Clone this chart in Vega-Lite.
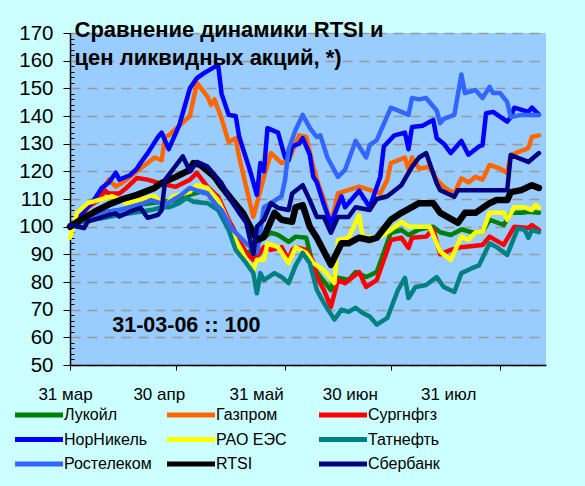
{
"$schema":"https://vega.github.io/schema/vega-lite/v6.json",
"width":476,"height":332,
"autosize":{"type":"none"},
"padding":{"left":70,"top":33,"right":39,"bottom":121},
"background":"#CCFFFF",
"config":{"view":{"fill":"#99CCFF","stroke":null},"font":"Liberation Sans"},
"resolve":{"axis":{"y":"independent"}},
"layer":[
{
"data":{"values":[
{"series":"Лукойл","date":"2006-03-31","value":100},{"series":"Лукойл","date":"2006-04-04","value":103},{"series":"Лукойл","date":"2006-04-09","value":105},{"series":"Лукойл","date":"2006-04-14","value":106},{"series":"Лукойл","date":"2006-04-20","value":108},{"series":"Лукойл","date":"2006-04-26","value":109},{"series":"Лукойл","date":"2006-05-01","value":109.6},{"series":"Лукойл","date":"2006-05-04","value":111.5},{"series":"Лукойл","date":"2006-05-07","value":112.6},{"series":"Лукойл","date":"2006-05-09","value":112},{"series":"Лукойл","date":"2006-05-11","value":110.4},{"series":"Лукойл","date":"2006-05-13","value":105},{"series":"Лукойл","date":"2006-05-16","value":100},{"series":"Лукойл","date":"2006-05-18","value":94},{"series":"Лукойл","date":"2006-05-20","value":90.5},{"series":"Лукойл","date":"2006-05-22","value":91.6},{"series":"Лукойл","date":"2006-05-24","value":95.2},{"series":"Лукойл","date":"2006-05-27","value":97.8},{"series":"Лукойл","date":"2006-05-29","value":97},{"series":"Лукойл","date":"2006-06-01","value":94.5},{"series":"Лукойл","date":"2006-06-03","value":96.4},{"series":"Лукойл","date":"2006-06-06","value":96},{"series":"Лукойл","date":"2006-06-08","value":85.5},{"series":"Лукойл","date":"2006-06-10","value":81.8},{"series":"Лукойл","date":"2006-06-13","value":77.1},{"series":"Лукойл","date":"2006-06-14","value":81.8},{"series":"Лукойл","date":"2006-06-18","value":80.7},{"series":"Лукойл","date":"2006-06-20","value":83.6},{"series":"Лукойл","date":"2006-06-23","value":81.8},{"series":"Лукойл","date":"2006-06-26","value":83.6},{"series":"Лукойл","date":"2006-06-30","value":97.8},{"series":"Лукойл","date":"2006-07-03","value":98.8},{"series":"Лукойл","date":"2006-07-05","value":97},{"series":"Лукойл","date":"2006-07-08","value":99},{"series":"Лукойл","date":"2006-07-12","value":100},{"series":"Лукойл","date":"2006-07-14","value":98},{"series":"Лукойл","date":"2006-07-17","value":97},{"series":"Лукойл","date":"2006-07-20","value":99},{"series":"Лукойл","date":"2006-07-23","value":98},{"series":"Лукойл","date":"2006-07-26","value":98},{"series":"Лукойл","date":"2006-07-28","value":102.5},{"series":"Лукойл","date":"2006-08-01","value":100.6},{"series":"Лукойл","date":"2006-08-03","value":105},{"series":"Лукойл","date":"2006-08-06","value":105},{"series":"Лукойл","date":"2006-08-08","value":105.4},{"series":"Лукойл","date":"2006-08-11","value":105},
{"series":"Газпром","date":"2006-03-31","value":100},{"series":"Газпром","date":"2006-04-04","value":105},{"series":"Газпром","date":"2006-04-07","value":110},{"series":"Газпром","date":"2006-04-09","value":113},{"series":"Газпром","date":"2006-04-11","value":117},{"series":"Газпром","date":"2006-04-13","value":114.5},{"series":"Газпром","date":"2006-04-15","value":116},{"series":"Газпром","date":"2006-04-19","value":120},{"series":"Газпром","date":"2006-04-24","value":125},{"series":"Газпром","date":"2006-04-26","value":124},{"series":"Газпром","date":"2006-04-27","value":132.5},{"series":"Газпром","date":"2006-04-28","value":133},{"series":"Газпром","date":"2006-05-04","value":140},{"series":"Газпром","date":"2006-05-06","value":152},{"series":"Газпром","date":"2006-05-09","value":147},{"series":"Газпром","date":"2006-05-10","value":144},{"series":"Газпром","date":"2006-05-11","value":146},{"series":"Газпром","date":"2006-05-13","value":139},{"series":"Газпром","date":"2006-05-15","value":130.6},{"series":"Газпром","date":"2006-05-17","value":132},{"series":"Газпром","date":"2006-05-18","value":125},{"series":"Газпром","date":"2006-05-22","value":103.5},{"series":"Газпром","date":"2006-05-25","value":118},{"series":"Газпром","date":"2006-05-27","value":126.6},{"series":"Газпром","date":"2006-05-30","value":123},{"series":"Газпром","date":"2006-06-01","value":124},{"series":"Газпром","date":"2006-06-04","value":133},{"series":"Газпром","date":"2006-06-06","value":132.4},{"series":"Газпром","date":"2006-06-08","value":121.6},{"series":"Газпром","date":"2006-06-09","value":117},{"series":"Газпром","date":"2006-06-11","value":110},{"series":"Газпром","date":"2006-06-13","value":101},{"series":"Газпром","date":"2006-06-15","value":112},{"series":"Газпром","date":"2006-06-21","value":114.5},{"series":"Газпром","date":"2006-06-27","value":112},{"series":"Газпром","date":"2006-06-29","value":117},{"series":"Газпром","date":"2006-06-30","value":123},{"series":"Газпром","date":"2006-07-04","value":125},{"series":"Газпром","date":"2006-07-05","value":120.5},{"series":"Газпром","date":"2006-07-06","value":125},{"series":"Газпром","date":"2006-07-08","value":121},{"series":"Газпром","date":"2006-07-11","value":121.6},{"series":"Газпром","date":"2006-07-13","value":117},{"series":"Газпром","date":"2006-07-15","value":114.4},{"series":"Газпром","date":"2006-07-18","value":112},{"series":"Газпром","date":"2006-07-20","value":117.5},{"series":"Газпром","date":"2006-07-22","value":116},{"series":"Газпром","date":"2006-07-24","value":118},{"series":"Газпром","date":"2006-07-26","value":117},{"series":"Газпром","date":"2006-07-28","value":122.3},{"series":"Газпром","date":"2006-07-31","value":121},{"series":"Газпром","date":"2006-08-02","value":119.4},{"series":"Газпром","date":"2006-08-03","value":125.9},{"series":"Газпром","date":"2006-08-08","value":128.4},{"series":"Газпром","date":"2006-08-09","value":132.4},{"series":"Газпром","date":"2006-08-11","value":133},
{"series":"Сургнфгз","date":"2006-03-31","value":100},{"series":"Сургнфгз","date":"2006-04-05","value":107},{"series":"Сургнфгз","date":"2006-04-08","value":109.6},{"series":"Сургнфгз","date":"2006-04-10","value":113},{"series":"Сургнфгз","date":"2006-04-11","value":112},{"series":"Сургнфгз","date":"2006-04-14","value":112},{"series":"Сургнфгз","date":"2006-04-16","value":114},{"series":"Сургнфгз","date":"2006-04-19","value":117.6},{"series":"Сургнфгз","date":"2006-04-22","value":117},{"series":"Сургнфгз","date":"2006-04-25","value":115.8},{"series":"Сургнфгз","date":"2006-04-30","value":114.4},{"series":"Сургнфгз","date":"2006-05-04","value":117},{"series":"Сургнфгз","date":"2006-05-06","value":119.4},{"series":"Сургнфгз","date":"2006-05-09","value":114.4},{"series":"Сургнфгз","date":"2006-05-12","value":110.8},{"series":"Сургнфгз","date":"2006-05-15","value":102.5},{"series":"Сургнфгз","date":"2006-05-18","value":95.2},{"series":"Сургнфгз","date":"2006-05-20","value":90.5},{"series":"Сургнфгз","date":"2006-05-22","value":88},{"series":"Сургнфгз","date":"2006-05-23","value":89},{"series":"Сургнфгз","date":"2006-05-25","value":92.6},{"series":"Сургнфгз","date":"2006-05-27","value":91.6},{"series":"Сургнфгз","date":"2006-05-30","value":92.6},{"series":"Сургнфгз","date":"2006-06-01","value":88},{"series":"Сургнфгз","date":"2006-06-02","value":91.6},{"series":"Сургнфгз","date":"2006-06-03","value":92.6},{"series":"Сургнфгз","date":"2006-06-06","value":91.6},{"series":"Сургнфгз","date":"2006-06-08","value":87.3},{"series":"Сургнфгз","date":"2006-06-09","value":81.8},{"series":"Сургнфгз","date":"2006-06-11","value":77.1},{"series":"Сургнфгз","date":"2006-06-13","value":71},{"series":"Сургнфгз","date":"2006-06-15","value":80.7},{"series":"Сургнфгз","date":"2006-06-17","value":79.6},{"series":"Сургнфгз","date":"2006-06-21","value":83.6},{"series":"Сургнфгз","date":"2006-06-23","value":78.2},{"series":"Сургнфгз","date":"2006-06-26","value":80.7},{"series":"Сургнфгз","date":"2006-06-30","value":95.2},{"series":"Сургнфгз","date":"2006-07-03","value":96},{"series":"Сургнфгз","date":"2006-07-05","value":92.3},{"series":"Сургнфгз","date":"2006-07-06","value":96},{"series":"Сургнфгз","date":"2006-07-10","value":96.4},{"series":"Сургнфгз","date":"2006-07-12","value":99},{"series":"Сургнфгз","date":"2006-07-14","value":90},{"series":"Сургнфгз","date":"2006-07-17","value":91.6},{"series":"Сургнфгз","date":"2006-07-20","value":92.6},{"series":"Сургнфгз","date":"2006-07-26","value":93.4},{"series":"Сургнфгз","date":"2006-07-28","value":96.4},{"series":"Сургнфгз","date":"2006-08-01","value":93.4},{"series":"Сургнфгз","date":"2006-08-04","value":100},{"series":"Сургнфгз","date":"2006-08-08","value":99.5},{"series":"Сургнфгз","date":"2006-08-09","value":100.6},{"series":"Сургнфгз","date":"2006-08-11","value":98.8},
{"series":"НорНикель","date":"2006-03-31","value":100},{"series":"НорНикель","date":"2006-04-07","value":110},{"series":"НорНикель","date":"2006-04-09","value":114},{"series":"НорНикель","date":"2006-04-11","value":116},{"series":"НорНикель","date":"2006-04-13","value":119.5},{"series":"НорНикель","date":"2006-04-14","value":117},{"series":"НорНикель","date":"2006-04-17","value":118.6},{"series":"НорНикель","date":"2006-04-19","value":121},{"series":"НорНикель","date":"2006-04-20","value":123},{"series":"НорНикель","date":"2006-04-22","value":126.5},{"series":"НорНикель","date":"2006-04-25","value":132.5},{"series":"НорНикель","date":"2006-04-26","value":134},{"series":"НорНикель","date":"2006-04-28","value":128},{"series":"НорНикель","date":"2006-05-01","value":136.7},{"series":"НорНикель","date":"2006-05-04","value":150},{"series":"НорНикель","date":"2006-05-06","value":153.7},{"series":"НорНикель","date":"2006-05-08","value":155.5},{"series":"НорНикель","date":"2006-05-12","value":158.5},{"series":"НорНикель","date":"2006-05-13","value":148},{"series":"НорНикель","date":"2006-05-15","value":140.4},{"series":"НорНикель","date":"2006-05-17","value":140},{"series":"НорНикель","date":"2006-05-18","value":132.4},{"series":"НорНикель","date":"2006-05-21","value":120.5},{"series":"НорНикель","date":"2006-05-23","value":111.5},{"series":"НорНикель","date":"2006-05-24","value":123},{"series":"НорНикель","date":"2006-05-25","value":120},{"series":"НорНикель","date":"2006-05-26","value":135.6},{"series":"НорНикель","date":"2006-05-29","value":134},{"series":"НорНикель","date":"2006-05-31","value":125},{"series":"НорНикель","date":"2006-06-01","value":124},{"series":"НорНикель","date":"2006-06-02","value":129},{"series":"НорНикель","date":"2006-06-04","value":130},{"series":"НорНикель","date":"2006-06-05","value":132},{"series":"НорНикель","date":"2006-06-07","value":126},{"series":"НорНикель","date":"2006-06-08","value":118},{"series":"НорНикель","date":"2006-06-09","value":116},{"series":"НорНикель","date":"2006-06-11","value":108},{"series":"НорНикель","date":"2006-06-13","value":101},{"series":"НорНикель","date":"2006-06-16","value":111},{"series":"НорНикель","date":"2006-06-17","value":107},{"series":"НорНикель","date":"2006-06-21","value":113},{"series":"НорНикель","date":"2006-06-24","value":107},{"series":"НорНикель","date":"2006-06-27","value":118},{"series":"НорНикель","date":"2006-06-28","value":129},{"series":"НорНикель","date":"2006-07-01","value":133},{"series":"НорНикель","date":"2006-07-04","value":134},{"series":"НорНикель","date":"2006-07-05","value":128},{"series":"НорНикель","date":"2006-07-06","value":136},{"series":"НорНикель","date":"2006-07-09","value":136.5},{"series":"НорНикель","date":"2006-07-12","value":138.6},{"series":"НорНикель","date":"2006-07-13","value":132},{"series":"НорНикель","date":"2006-07-15","value":130},{"series":"НорНикель","date":"2006-07-17","value":126.6},{"series":"НорНикель","date":"2006-07-20","value":131},{"series":"НорНикель","date":"2006-07-22","value":126},{"series":"НорНикель","date":"2006-07-25","value":129},{"series":"НорНикель","date":"2006-07-26","value":129.5},{"series":"НорНикель","date":"2006-07-27","value":141},{"series":"НорНикель","date":"2006-07-29","value":141.5},{"series":"НорНикель","date":"2006-08-02","value":138},{"series":"НорНикель","date":"2006-08-03","value":139.6},{"series":"НорНикель","date":"2006-08-04","value":143},{"series":"НорНикель","date":"2006-08-08","value":141.5},{"series":"НорНикель","date":"2006-08-09","value":143},{"series":"НорНикель","date":"2006-08-11","value":140.5},
{"series":"РАО ЕЭС","date":"2006-03-31","value":96},{"series":"РАО ЕЭС","date":"2006-04-02","value":105},{"series":"РАО ЕЭС","date":"2006-04-05","value":108.5},{"series":"РАО ЕЭС","date":"2006-04-08","value":109.6},{"series":"РАО ЕЭС","date":"2006-04-12","value":111},{"series":"РАО ЕЭС","date":"2006-04-16","value":108.5},{"series":"РАО ЕЭС","date":"2006-04-20","value":110},{"series":"РАО ЕЭС","date":"2006-04-24","value":111},{"series":"РАО ЕЭС","date":"2006-04-27","value":107.2},{"series":"РАО ЕЭС","date":"2006-04-29","value":110.8},{"series":"РАО ЕЭС","date":"2006-05-04","value":112.6},{"series":"РАО ЕЭС","date":"2006-05-06","value":115},{"series":"РАО ЕЭС","date":"2006-05-09","value":114},{"series":"РАО ЕЭС","date":"2006-05-12","value":109.6},{"series":"РАО ЕЭС","date":"2006-05-15","value":101.4},{"series":"РАО ЕЭС","date":"2006-05-17","value":95.2},{"series":"РАО ЕЭС","date":"2006-05-20","value":88},{"series":"РАО ЕЭС","date":"2006-05-22","value":84.3},{"series":"РАО ЕЭС","date":"2006-05-23","value":88},{"series":"РАО ЕЭС","date":"2006-05-25","value":88},{"series":"РАО ЕЭС","date":"2006-05-26","value":94},{"series":"РАО ЕЭС","date":"2006-05-29","value":92.6},{"series":"РАО ЕЭС","date":"2006-06-01","value":86.8},{"series":"РАО ЕЭС","date":"2006-06-03","value":92.6},{"series":"РАО ЕЭС","date":"2006-06-06","value":90.5},{"series":"РАО ЕЭС","date":"2006-06-08","value":86.8},{"series":"РАО ЕЭС","date":"2006-06-11","value":84.3},{"series":"РАО ЕЭС","date":"2006-06-14","value":79.6},{"series":"РАО ЕЭС","date":"2006-06-15","value":95.2},{"series":"РАО ЕЭС","date":"2006-06-18","value":96},{"series":"РАО ЕЭС","date":"2006-06-21","value":104.2},{"series":"РАО ЕЭС","date":"2006-06-22","value":96.4},{"series":"РАО ЕЭС","date":"2006-06-25","value":96},{"series":"РАО ЕЭС","date":"2006-06-27","value":96.4},{"series":"РАО ЕЭС","date":"2006-06-30","value":98.8},{"series":"РАО ЕЭС","date":"2006-07-03","value":101.8},{"series":"РАО ЕЭС","date":"2006-07-05","value":100},{"series":"РАО ЕЭС","date":"2006-07-07","value":100},{"series":"РАО ЕЭС","date":"2006-07-11","value":100},{"series":"РАО ЕЭС","date":"2006-07-14","value":91},{"series":"РАО ЕЭС","date":"2006-07-17","value":88},{"series":"РАО ЕЭС","date":"2006-07-20","value":96.4},{"series":"РАО ЕЭС","date":"2006-07-22","value":95.2},{"series":"РАО ЕЭС","date":"2006-07-24","value":98},{"series":"РАО ЕЭС","date":"2006-07-26","value":98},{"series":"РАО ЕЭС","date":"2006-07-28","value":105},{"series":"РАО ЕЭС","date":"2006-08-01","value":105},{"series":"РАО ЕЭС","date":"2006-08-02","value":102.5},{"series":"РАО ЕЭС","date":"2006-08-04","value":107},{"series":"РАО ЕЭС","date":"2006-08-07","value":107},{"series":"РАО ЕЭС","date":"2006-08-09","value":106},{"series":"РАО ЕЭС","date":"2006-08-10","value":107.8},{"series":"РАО ЕЭС","date":"2006-08-11","value":106.8},
{"series":"Татнефть","date":"2006-03-31","value":100},{"series":"Татнефть","date":"2006-04-04","value":102},{"series":"Татнефть","date":"2006-04-09","value":103},{"series":"Татнефть","date":"2006-04-13","value":104},{"series":"Татнефть","date":"2006-04-18","value":105},{"series":"Татнефть","date":"2006-04-23","value":106},{"series":"Татнефть","date":"2006-04-26","value":107},{"series":"Татнефть","date":"2006-04-28","value":107},{"series":"Татнефть","date":"2006-05-01","value":108.5},{"series":"Татнефть","date":"2006-05-03","value":110.4},{"series":"Татнефть","date":"2006-05-05","value":109},{"series":"Татнефть","date":"2006-05-09","value":108.5},{"series":"Татнефть","date":"2006-05-12","value":106},{"series":"Татнефть","date":"2006-05-15","value":98.8},{"series":"Татнефть","date":"2006-05-17","value":91.6},{"series":"Татнефть","date":"2006-05-20","value":86.8},{"series":"Татнефть","date":"2006-05-22","value":83.2},{"series":"Татнефть","date":"2006-05-23","value":75.9},{"series":"Татнефть","date":"2006-05-24","value":83.2},{"series":"Татнефть","date":"2006-05-25","value":80.7},{"series":"Татнефть","date":"2006-05-28","value":83.2},{"series":"Татнефть","date":"2006-05-30","value":81.8},{"series":"Татнефть","date":"2006-06-01","value":79.6},{"series":"Татнефть","date":"2006-06-03","value":86},{"series":"Татнефть","date":"2006-06-05","value":90.5},{"series":"Татнефть","date":"2006-06-07","value":86.8},{"series":"Татнефть","date":"2006-06-09","value":77.1},{"series":"Татнефть","date":"2006-06-11","value":72.4},{"series":"Татнефть","date":"2006-06-14","value":66.4},{"series":"Татнефть","date":"2006-06-16","value":70},{"series":"Татнефть","date":"2006-06-18","value":69.2},{"series":"Татнефть","date":"2006-06-20","value":70.7},{"series":"Татнефть","date":"2006-06-22","value":68.8},{"series":"Татнефть","date":"2006-06-24","value":67.5},{"series":"Татнефть","date":"2006-06-26","value":64.6},{"series":"Татнефть","date":"2006-06-29","value":67},{"series":"Татнефть","date":"2006-07-02","value":77.1},{"series":"Татнефть","date":"2006-07-04","value":81.5},{"series":"Татнефть","date":"2006-07-05","value":74.2},{"series":"Татнефть","date":"2006-07-07","value":78.2},{"series":"Татнефть","date":"2006-07-10","value":78.9},{"series":"Татнефть","date":"2006-07-13","value":81.8},{"series":"Татнефть","date":"2006-07-15","value":78.2},{"series":"Татнефть","date":"2006-07-18","value":76.4},{"series":"Татнефть","date":"2006-07-20","value":83.2},{"series":"Татнефть","date":"2006-07-23","value":85},{"series":"Татнефть","date":"2006-07-25","value":86},{"series":"Татнефть","date":"2006-07-28","value":94},{"series":"Татнефть","date":"2006-07-30","value":92.6},{"series":"Татнефть","date":"2006-08-02","value":89.8},{"series":"Татнефть","date":"2006-08-05","value":99.4},{"series":"Татнефть","date":"2006-08-07","value":98.8},{"series":"Татнефть","date":"2006-08-08","value":96},{"series":"Татнефть","date":"2006-08-09","value":98.8},{"series":"Татнефть","date":"2006-08-11","value":98},
{"series":"Ростелеком","date":"2006-03-31","value":100},{"series":"Ростелеком","date":"2006-04-04","value":103},{"series":"Ростелеком","date":"2006-04-09","value":105},{"series":"Ростелеком","date":"2006-04-14","value":106},{"series":"Ростелеком","date":"2006-04-20","value":108},{"series":"Ростелеком","date":"2006-04-23","value":109.6},{"series":"Ростелеком","date":"2006-04-27","value":108},{"series":"Ростелеком","date":"2006-05-01","value":111},{"series":"Ростелеком","date":"2006-05-04","value":114},{"series":"Ростелеком","date":"2006-05-06","value":113},{"series":"Ростелеком","date":"2006-05-09","value":112},{"series":"Ростелеком","date":"2006-05-11","value":108.5},{"series":"Ростелеком","date":"2006-05-13","value":106},{"series":"Ростелеком","date":"2006-05-16","value":99},{"series":"Ростелеком","date":"2006-05-20","value":94},{"series":"Ростелеком","date":"2006-05-23","value":90.5},{"series":"Ростелеком","date":"2006-05-25","value":107},{"series":"Ростелеком","date":"2006-05-27","value":108.5},{"series":"Ростелеком","date":"2006-05-30","value":111},{"series":"Ростелеком","date":"2006-05-31","value":117},{"series":"Ростелеком","date":"2006-06-01","value":128},{"series":"Ростелеком","date":"2006-06-03","value":135},{"series":"Ростелеком","date":"2006-06-05","value":140.4},{"series":"Ростелеком","date":"2006-06-07","value":135.7},{"series":"Ростелеком","date":"2006-06-09","value":132.4},{"series":"Ростелеком","date":"2006-06-10","value":133},{"series":"Ростелеком","date":"2006-06-12","value":125},{"series":"Ростелеком","date":"2006-06-15","value":118},{"series":"Ростелеком","date":"2006-06-17","value":120.5},{"series":"Ростелеком","date":"2006-06-20","value":131},{"series":"Ростелеком","date":"2006-06-23","value":125},{"series":"Ростелеком","date":"2006-06-24","value":129.5},{"series":"Ростелеком","date":"2006-06-26","value":131.3},{"series":"Ростелеком","date":"2006-06-30","value":143},{"series":"Ростелеком","date":"2006-07-03","value":141.5},{"series":"Ростелеком","date":"2006-07-05","value":140.4},{"series":"Ростелеком","date":"2006-07-06","value":146.5},{"series":"Ростелеком","date":"2006-07-08","value":146},{"series":"Ростелеком","date":"2006-07-10","value":146.5},{"series":"Ростелеком","date":"2006-07-13","value":142},{"series":"Ростелеком","date":"2006-07-14","value":137.4},{"series":"Ростелеком","date":"2006-07-15","value":139},{"series":"Ростелеком","date":"2006-07-18","value":140.4},{"series":"Ростелеком","date":"2006-07-20","value":155},{"series":"Ростелеком","date":"2006-07-21","value":148.3},{"series":"Ростелеком","date":"2006-07-24","value":149.4},{"series":"Ростелеком","date":"2006-07-26","value":146.5},{"series":"Ростелеком","date":"2006-07-28","value":150.5},{"series":"Ростелеком","date":"2006-07-29","value":148.3},{"series":"Ростелеком","date":"2006-07-31","value":148.3},{"series":"Ростелеком","date":"2006-08-02","value":145},{"series":"Ростелеком","date":"2006-08-03","value":139.6},{"series":"Ростелеком","date":"2006-08-06","value":140.4},{"series":"Ростелеком","date":"2006-08-11","value":140.4},
{"series":"RTSI","date":"2006-03-31","value":100},{"series":"RTSI","date":"2006-04-03","value":102.5},{"series":"RTSI","date":"2006-04-07","value":105.4},{"series":"RTSI","date":"2006-04-11","value":108},{"series":"RTSI","date":"2006-04-15","value":110},{"series":"RTSI","date":"2006-04-19","value":111.5},{"series":"RTSI","date":"2006-04-24","value":114},{"series":"RTSI","date":"2006-04-26","value":115.8},{"series":"RTSI","date":"2006-04-30","value":118},{"series":"RTSI","date":"2006-05-04","value":120.5},{"series":"RTSI","date":"2006-05-05","value":123},{"series":"RTSI","date":"2006-05-07","value":122.3},{"series":"RTSI","date":"2006-05-11","value":118},{"series":"RTSI","date":"2006-05-13","value":114.4},{"series":"RTSI","date":"2006-05-16","value":109.6},{"series":"RTSI","date":"2006-05-19","value":105},{"series":"RTSI","date":"2006-05-22","value":97.8},{"series":"RTSI","date":"2006-05-23","value":95.2},{"series":"RTSI","date":"2006-05-25","value":96.3},{"series":"RTSI","date":"2006-05-28","value":105},{"series":"RTSI","date":"2006-05-30","value":102.5},{"series":"RTSI","date":"2006-06-02","value":101.8},{"series":"RTSI","date":"2006-06-03","value":107},{"series":"RTSI","date":"2006-06-05","value":107.8},{"series":"RTSI","date":"2006-06-07","value":100},{"series":"RTSI","date":"2006-06-09","value":96},{"series":"RTSI","date":"2006-06-13","value":86.2},{"series":"RTSI","date":"2006-06-16","value":94},{"series":"RTSI","date":"2006-06-18","value":94},{"series":"RTSI","date":"2006-06-21","value":96},{"series":"RTSI","date":"2006-06-24","value":95.2},{"series":"RTSI","date":"2006-06-26","value":96},{"series":"RTSI","date":"2006-06-30","value":102.5},{"series":"RTSI","date":"2006-07-03","value":105},{"series":"RTSI","date":"2006-07-07","value":107.8},{"series":"RTSI","date":"2006-07-08","value":108.5},{"series":"RTSI","date":"2006-07-12","value":108.5},{"series":"RTSI","date":"2006-07-14","value":105},{"series":"RTSI","date":"2006-07-19","value":101.4},{"series":"RTSI","date":"2006-07-21","value":105},{"series":"RTSI","date":"2006-07-24","value":105},{"series":"RTSI","date":"2006-07-28","value":108.5},{"series":"RTSI","date":"2006-07-30","value":109.6},{"series":"RTSI","date":"2006-08-02","value":109.6},{"series":"RTSI","date":"2006-08-03","value":112.5},{"series":"RTSI","date":"2006-08-06","value":113.2},{"series":"RTSI","date":"2006-08-09","value":115},{"series":"RTSI","date":"2006-08-11","value":114},
{"series":"Сбербанк","date":"2006-03-31","value":100.6},{"series":"Сбербанк","date":"2006-04-04","value":99.5},{"series":"Сбербанк","date":"2006-04-05","value":101.8},{"series":"Сбербанк","date":"2006-04-11","value":104.2},{"series":"Сбербанк","date":"2006-04-13","value":104.8},{"series":"Сбербанк","date":"2006-04-14","value":103.7},{"series":"Сбербанк","date":"2006-04-17","value":105.4},{"series":"Сбербанк","date":"2006-04-20","value":106.8},{"series":"Сбербанк","date":"2006-04-22","value":103.2},{"series":"Сбербанк","date":"2006-04-25","value":104.3},{"series":"Сбербанк","date":"2006-04-26","value":106},{"series":"Сбербанк","date":"2006-04-27","value":117},{"series":"Сбербанк","date":"2006-04-29","value":120.4},{"series":"Сбербанк","date":"2006-05-02","value":125.4},{"series":"Сбербанк","date":"2006-05-04","value":120},{"series":"Сбербанк","date":"2006-05-06","value":123.4},{"series":"Сбербанк","date":"2006-05-09","value":121.7},{"series":"Сбербанк","date":"2006-05-13","value":115.7},{"series":"Сбербанк","date":"2006-05-15","value":110.7},{"series":"Сбербанк","date":"2006-05-18","value":105},{"series":"Сбербанк","date":"2006-05-20","value":101.4},{"series":"Сбербанк","date":"2006-05-22","value":90},{"series":"Сбербанк","date":"2006-05-23","value":100},{"series":"Сбербанк","date":"2006-05-25","value":102.5},{"series":"Сбербанк","date":"2006-05-27","value":108.5},{"series":"Сбербанк","date":"2006-05-29","value":106.8},{"series":"Сбербанк","date":"2006-06-01","value":106},{"series":"Сбербанк","date":"2006-06-02","value":112},{"series":"Сбербанк","date":"2006-06-05","value":115},{"series":"Сбербанк","date":"2006-06-07","value":109.6},{"series":"Сбербанк","date":"2006-06-09","value":103.5},{"series":"Сбербанк","date":"2006-06-11","value":103.5},{"series":"Сбербанк","date":"2006-06-13","value":97.8},{"series":"Сбербанк","date":"2006-06-15","value":103.5},{"series":"Сбербанк","date":"2006-06-18","value":103.5},{"series":"Сбербанк","date":"2006-06-20","value":107},{"series":"Сбербанк","date":"2006-06-24","value":106},{"series":"Сбербанк","date":"2006-06-26","value":110},{"series":"Сбербанк","date":"2006-06-29","value":111},{"series":"Сбербанк","date":"2006-07-03","value":115},{"series":"Сбербанк","date":"2006-07-05","value":119.4},{"series":"Сбербанк","date":"2006-07-06","value":121.6},{"series":"Сбербанк","date":"2006-07-08","value":125},{"series":"Сбербанк","date":"2006-07-10","value":126.6},{"series":"Сбербанк","date":"2006-07-13","value":115.7},{"series":"Сбербанк","date":"2006-07-14","value":113.2},{"series":"Сбербанк","date":"2006-07-18","value":110.8},{"series":"Сбербанк","date":"2006-07-19","value":113.2},{"series":"Сбербанк","date":"2006-08-02","value":113.2},{"series":"Сбербанк","date":"2006-08-03","value":125.9},{"series":"Сбербанк","date":"2006-08-08","value":123.4},{"series":"Сбербанк","date":"2006-08-11","value":126.6}
]},
"mark":{"type":"line","strokeJoin":"round","strokeCap":"round"},
"encoding":{
"x":{"field":"date","type":"temporal","scale":{"type":"utc","domain":[{"year":2006,"month":3,"date":31,"utc":true},{"year":2006,"month":8,"date":13,"utc":true}]},
"axis":{"title":null,"grid":false,"values":[{"year":2006,"month":3,"date":31,"utc":true},{"year":2006,"month":4,"date":30,"utc":true},{"year":2006,"month":5,"date":31,"utc":true},{"year":2006,"month":6,"date":30,"utc":true},{"year":2006,"month":7,"date":31,"utc":true}],
"labelExpr":"utcdate(datum.value) + ' ' + ['янв','фев','мар','апр','май','июн','июл','авг','сен','окт','ноя','дек'][utcmonth(datum.value)]",
"labelOffset":{"condition":[{"test":"utcmonth(datum.value) === 3","value":-17},{"test":"utcmonth(datum.value) === 4","value":-29},{"test":"utcmonth(datum.value) === 5","value":-41},{"test":"utcmonth(datum.value) === 6","value":-52}],"value":-5},
"tickSize":5,"tickColor":"black","domainColor":"black","domainWidth":1.5,"labelColor":"black","labelFontSize":17,"labelPadding":16,"labelFlush":false,"labelOverlap":false}},
"y":{"field":"value","type":"quantitative","scale":{"domain":[50,170],"nice":false,"zero":false},
"axis":{"title":null,"values":[50,60,70,80,90,100,110,120,130,140,150,160,170],"labelOverlap":false,
"grid":true,"gridColor":"#999999","gridDash":[10,7],"gridWidth":1.3,"tickSize":7,
"tickColor":"black","domainColor":"black","domainWidth":1.5,"labelColor":"black","labelFontSize":20.5,"labelPadding":10}},
"color":{"field":"series","type":"nominal",
"scale":{"domain":["Лукойл","Газпром","Сургнфгз","НорНикель","РАО ЕЭС","Татнефть","Ростелеком","RTSI","Сбербанк"],"range":["#008000","#FF6600","#FF0000","#0000FF","#FFFF00","#008080","#3366FF","#000000","#000080"]},
"legend":{"orient":"none","legendX":-41,"legendY":372,"direction":"horizontal","columns":3,"title":null,"symbolType":"M-3.2,0H3.2","symbolSize":225,"symbolStrokeWidth":5,"labelFontSize":16,"labelColor":"black","gridAlign":"all","columnPadding":5,"rowPadding":4.5,"labelOffset":15}},
"strokeWidth":{"condition":{"test":"datum.series === 'RTSI'","value":6.5},"value":4.5}
}
},
{
"data":{"values":[{"date":"2006-04-01","value":168.6,"text":"Сравнение динамики RTSI и"},{"date":"2006-04-01","value":158.3,"text":"цен ликвидных акций, *)"}]},
"mark":{"type":"text","align":"left","baseline":"alphabetic","fontSize":22,"fontWeight":"bold","color":"black","dx":1},
"encoding":{"x":{"field":"date","type":"temporal"},"y":{"field":"value","type":"quantitative",
"axis":{"orient":"left","title":null,"values":[52,54,56,58,62,64,66,68,72,74,76,78,82,84,86,88,92,94,96,98,102,104,106,108,112,114,116,118,122,124,126,128,132,134,136,138,142,144,146,148,152,154,156,158,162,164,166,168],"labels":false,"grid":false,"domain":false,"tickSize":-4,"tickColor":"black","tickWidth":1}},"text":{"field":"text"}}
},
{
"data":{"values":[{"date":"2006-05-03","value":64.2,"text":"31-03-06 :: 100"}]},
"mark":{"type":"text","align":"center","baseline":"middle","fontSize":21.5,"fontWeight":"bold","color":"black"},
"encoding":{"x":{"field":"date","type":"temporal"},"y":{"field":"value","type":"quantitative","axis":null},"text":{"field":"text"}}
}
]
}
